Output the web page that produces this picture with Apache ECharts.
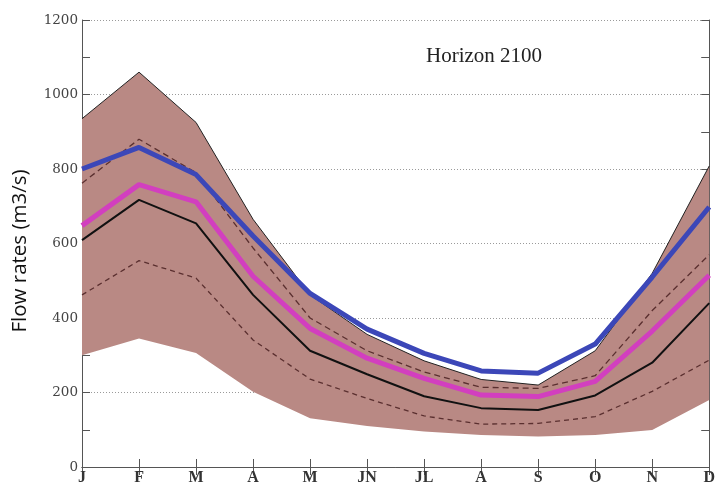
<!DOCTYPE html>
<html>
<head>
<meta charset="utf-8">
<script src="https://cdn.jsdelivr.net/npm/echarts@6/dist/echarts.min.js"></script>
<style>html,body{margin:0;padding:0;background:#fff}#c{width:718px;height:489px}</style>
</head>
<body>
<div id="c"></div>
<script>
const months = ['J','F','M','A','M','JN','JL','A','S','O','N','D'];
const yTicks = [0,200,400,600,800,1000,1200];
const envelopeUpper = [935,1060,925,665,462,356,285,235,220,312,520,808];
const envelopeLower = [300,345,306,202,131,110,95,86,82,86,99,180];
const blueSeries    = [800,858,785,620,466,370,305,258,252,330,510,698];
const upperDashed   = [762,880,790,588,400,312,255,214,211,245,420,570];
const magentaSeries = [648,758,712,512,372,292,238,193,189,230,365,515];
const blackSeries   = [609,717,654,462,312,249,190,158,153,192,280,440];
const lowerDashed   = [462,554,507,341,236,184,137,115,117,135,203,287];
const titleText = 'Horizon 2100';
const yName = 'Flow rates (m3/s)';

const bandHeight = envelopeUpper.map((v,i)=>v-envelopeLower[i]);
const serif = 'Liberation Serif';
const chart = echarts.init(document.getElementById('c'), null, {renderer:'canvas'});
const frame = {show:true, lineStyle:{color:'#555', width:1}};
chart.setOption({
  animation:false,
  backgroundColor:'#fff',
  title:{text:titleText, left:421, top:41, textStyle:{fontFamily:serif, fontSize:21, fontWeight:'normal', color:'#222'}},
  grid:{left:82, right:1, top:20, bottom:22},
  xAxis:[
    {type:'category', data:months, boundaryGap:false, position:'bottom',
     axisLine:frame, axisTick:{show:true, inside:true, length:8, lineStyle:{color:'#555'}},
     axisLabel:{fontFamily:serif, fontSize:16, fontWeight:'bold', color:'#333', margin:3, interval:0},
     splitLine:{show:false}},
    {type:'category', data:months, boundaryGap:false, position:'top',
     axisLine:frame, axisTick:{show:true, inside:true, length:8, lineStyle:{color:'#555'}},
     axisLabel:{show:false}, splitLine:{show:false}}
  ],
  yAxis:[
    {type:'value', min:yTicks[0], max:yTicks[yTicks.length-1], interval:200, position:'left',
     name:yName, nameLocation:'middle', nameGap:51, nameRotate:90,
     nameTextStyle:{fontFamily:'Open Sans', fontSize:20.5, color:'#111', padding:[0,0,0,-15]},
     axisLine:frame, axisTick:{show:true, inside:true, length:8, lineStyle:{color:'#555'}},
     minorTick:{show:true, splitNumber:2, length:8, lineStyle:{color:'#555'}},
     axisLabel:{fontFamily:'DejaVu Serif', fontSize:13.5, color:'#444', margin:4, formatter:(v)=>String(v)},
     splitLine:{show:true, lineStyle:{color:'#9a9a9a', type:[1,2], width:1}}},
    {type:'value', min:yTicks[0], max:yTicks[yTicks.length-1], interval:200, position:'right',
     axisLine:frame, axisTick:{show:true, inside:true, length:8, lineStyle:{color:'#555'}},
     minorTick:{show:true, splitNumber:2, length:8, lineStyle:{color:'#555'}},
     axisLabel:{show:false}, splitLine:{show:false}}
  ],
  series:[
    {type:'line', data:envelopeLower, stack:'band', symbol:'none', lineStyle:{opacity:0}, z:1, silent:true},
    {type:'line', data:bandHeight, stack:'band', symbol:'none', lineStyle:{color:'#222', width:1},
     areaStyle:{color:'#b98984', opacity:1}, z:1, silent:true},
    {type:'line', data:lowerDashed, symbol:'none', lineStyle:{color:'#5a2f2f', width:1.3, type:[5,4]}, z:3},
    {type:'line', data:blackSeries, symbol:'none', lineStyle:{color:'#111', width:2}, z:3},
    {type:'line', data:magentaSeries, symbol:'none', lineStyle:{color:'#d23fbf', width:5}, z:4},
    {type:'line', data:upperDashed, symbol:'none', lineStyle:{color:'#5a2f2f', width:1.3, type:[6,4]}, z:4},
    {type:'line', data:blueSeries, symbol:'none', lineStyle:{color:'#3c47b8', width:5}, z:5}
  ]
});
</script>
</body>
</html>
